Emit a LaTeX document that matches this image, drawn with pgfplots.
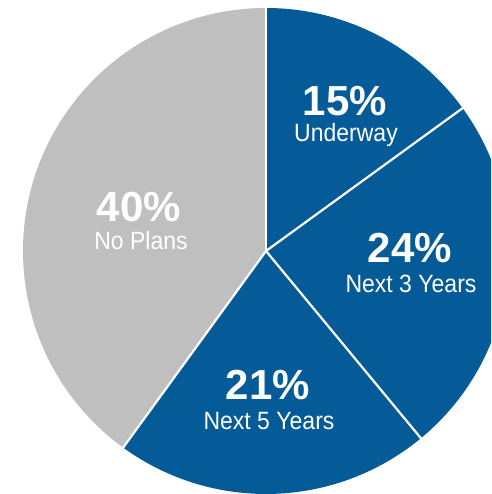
\documentclass[border=0pt]{standalone}
\usepackage{fontspec}
\setmainfont{Liberation Sans}
\usepackage{pgfplots}
\usepackage{pgfplotstable}
\pgfplotsset{compat=1.18}

\definecolor{pieblue}{HTML}{045B97}
\definecolor{piegray}{HTML}{BFBFBF}

\pgfplotstableread{
label value
Underway 15
Next3 24
Next5 21
NoPlans 40
}\piedata

\begin{document}
\begin{tikzpicture}
% cumulative angles, clockwise from the top
\pgfplotstablegetelem{0}{value}\of\piedata \edef\vA{\pgfplotsretval}
\pgfplotstablegetelem{1}{value}\of\piedata \edef\vB{\pgfplotsretval}
\pgfplotstablegetelem{2}{value}\of\piedata \edef\vC{\pgfplotsretval}
\pgfplotstablegetelem{3}{value}\of\piedata \edef\vD{\pgfplotsretval}
\pgfmathsetmacro\aA{90}
\pgfmathsetmacro\aB{\aA-3.6*\vA}
\pgfmathsetmacro\aC{\aB-3.6*\vB}
\pgfmathsetmacro\aD{\aC-3.6*\vC}
\pgfmathsetmacro\aE{\aD-3.6*\vD}
\def\R{243}
\tikzset{pct/.style={white, anchor=base, font=\fontsize{42}{42}\selectfont\bfseries},
         lab/.style={white, anchor=base, font=\fontsize{25}{25}\selectfont, xscale=0.92},
         sep/.style={white, line width=2.2pt}}
\begin{axis}[
    x=1pt, y=1pt,
    xmin=-266, xmax=225,
    ymin=-243, ymax=251,
    hide axis,
    clip=true,
]
\fill[pieblue] (axis cs:0,0) -- ({\R*cos(\aA)},{\R*sin(\aA)}) arc[start angle=\aA, end angle=\aB, radius=\R pt] -- cycle;
\fill[pieblue] (axis cs:0,0) -- ({\R*cos(\aB)},{\R*sin(\aB)}) arc[start angle=\aB, end angle=\aC, radius=\R pt] -- cycle;
\fill[pieblue] (axis cs:0,0) -- ({\R*cos(\aC)},{\R*sin(\aC)}) arc[start angle=\aC, end angle=\aD, radius=\R pt] -- cycle;
\fill[piegray] (axis cs:0,0) -- ({\R*cos(\aD)},{\R*sin(\aD)}) arc[start angle=\aD, end angle=\aE, radius=\R pt] -- cycle;
\draw[sep] (axis cs:0,0) -- ({(\R+3)*cos(\aA)},{(\R+3)*sin(\aA)});
\draw[sep] (axis cs:0,0) -- ({(\R+3)*cos(\aB)},{(\R+3)*sin(\aB)});
\draw[sep] (axis cs:0,0) -- ({(\R+3)*cos(\aC)},{(\R+3)*sin(\aC)});
\draw[sep] (axis cs:0,0) -- ({(\R+3)*cos(\aD)},{(\R+3)*sin(\aD)});

\node[pct] at (axis cs:79,135) {15\%};
\node[lab] at (axis cs:80,109) {Underway};
\node[pct] at (axis cs:144,-12) {24\%};
\node[lab] at (axis cs:145,-42) {Next 3 Years};
\node[pct] at (axis cs:2,-149) {21\%};
\node[lab] at (axis cs:3,-179) {Next 5 Years};
\node[pct] at (axis cs:-127,29) {40\%};
\node[lab] at (axis cs:-125,1) {No Plans};
\end{axis}
\pgfresetboundingbox
\useasboundingbox (current axis.south west) rectangle (current axis.north east);
\end{tikzpicture}
\end{document}
